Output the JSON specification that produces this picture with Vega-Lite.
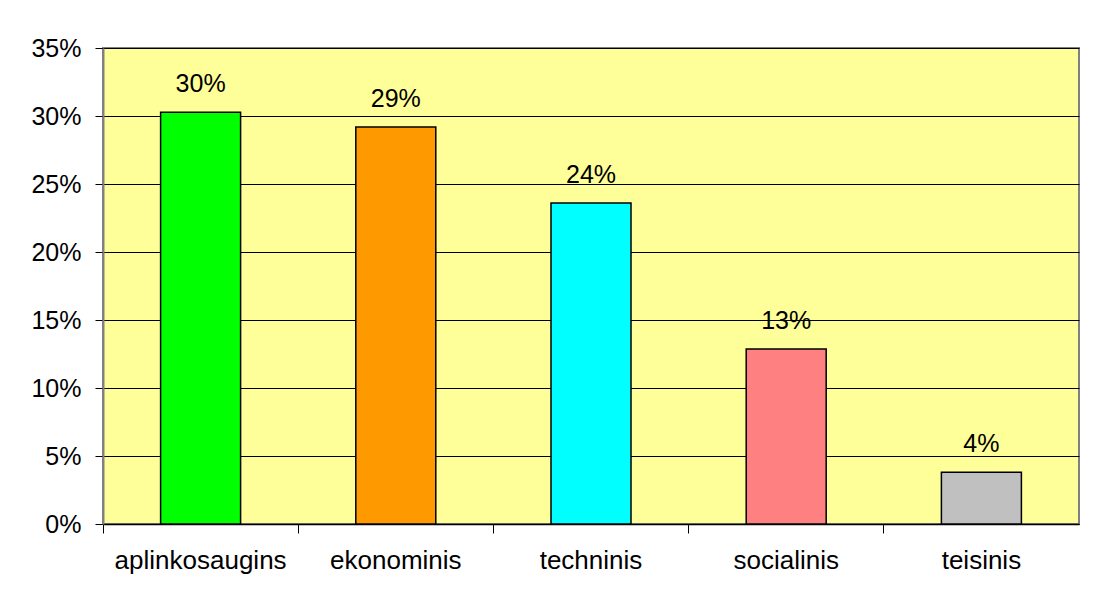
{
  "$schema": "https://vega.github.io/schema/vega-lite/v6.json",
  "autosize": "none",
  "width": 976,
  "height": 476,
  "padding": {"left": 103, "top": 48, "right": 18, "bottom": 80},
  "background": "white",
  "config": {
    "font": "Liberation Sans",
    "view": {"fill": "#FFFF99", "stroke": "#808080", "strokeWidth": 2}
  },
  "data": {
    "values": [
      {"category": "aplinkosaugins", "share": 0.3027, "label": "30%", "color": "#00FF00"},
      {"category": "ekonominis", "share": 0.292, "label": "29%", "color": "#FF9900"},
      {"category": "techninis", "share": 0.236, "label": "24%", "color": "#00FFFF"},
      {"category": "socialinis", "share": 0.1287, "label": "13%", "color": "#FF8080"},
      {"category": "teisinis", "share": 0.038, "label": "4%", "color": "#C0C0C0"}
    ]
  },
  "encoding": {
    "x": {
      "field": "category",
      "type": "nominal",
      "sort": null,
      "scale": {"paddingInner": 0, "paddingOuter": 0},
      "axis": {
        "title": null,
        "labelAngle": 0,
        "labelFontSize": 26,
        "labelColor": "black",
        "labelPadding": 14,
        "bandPosition": 0,
        "tickSize": 9,
        "tickColor": "black",
        "domainColor": "black",
        "domainWidth": 1.5,
        "grid": false
      }
    },
    "y": {
      "field": "share",
      "type": "quantitative",
      "scale": {"domain": [0, 0.35], "nice": false},
      "axis": {
        "title": null,
        "format": ".0%",
        "values": [0, 0.05, 0.1, 0.15, 0.2, 0.25, 0.3, 0.35],
        "labelFontSize": 25,
        "labelColor": "black",
        "labelPadding": 14,
        "tickSize": 8,
        "tickColor": "black",
        "domainColor": "#808080",
        "domainWidth": 2,
        "grid": true,
        "gridColor": "black",
        "gridWidth": 1,
        "gridOpacity": 1
      }
    }
  },
  "layer": [
    {
      "mark": {"type": "bar", "size": 80, "stroke": "black", "strokeWidth": 1.5},
      "encoding": {
        "color": {"field": "color", "type": "nominal", "scale": null}
      }
    },
    {
      "mark": {"type": "text", "baseline": "alphabetic", "dy": -20, "fontSize": 25, "color": "black"},
      "encoding": {"text": {"field": "label"}}
    }
  ]
}
